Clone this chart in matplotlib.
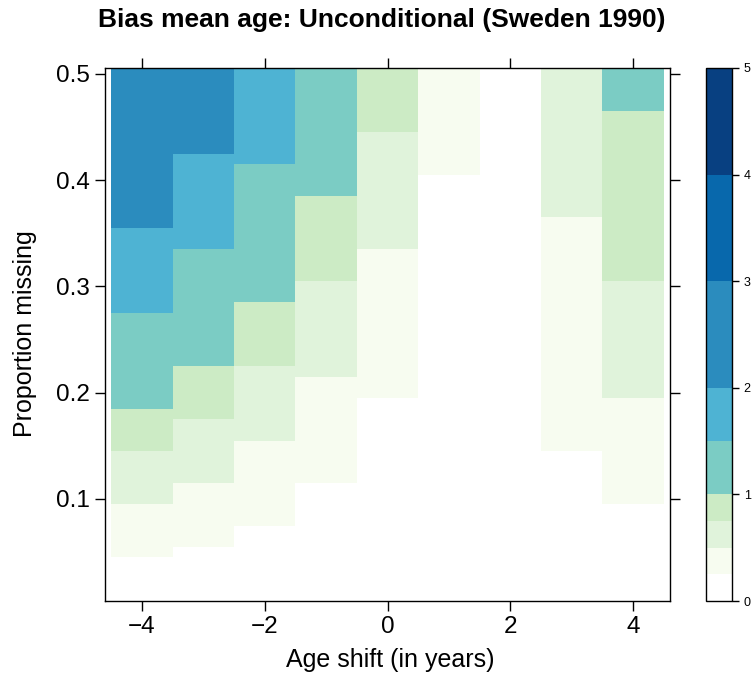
import numpy as np
import matplotlib
matplotlib.use("Agg")
import matplotlib.pyplot as plt
from matplotlib.colors import ListedColormap, BoundaryNorm

plt.rcParams["font.family"] = ["Liberation Sans", "DejaVu Sans"]

# age shift columns and proportion-missing rows
age_shift = [-4, -3, -2, -1, 0, 1, 2, 3, 4]
prop_missing = np.round(np.arange(1, 51) * 0.01, 2)

# colour key
levels = [0, 0.25, 0.5, 0.75, 1, 1.5, 2, 3, 4, 5]
colors = ["#ffffff", "#f7fcf0", "#e0f3db", "#ccebc5", "#7bccc4",
          "#4eb3d3", "#2b8cbe", "#0868ac", "#084081"]

# bias per column, read bottom-up as (value, number of rows)
bias_m4 = [(0.1, 4), (0.4, 5), (0.6, 5), (0.9, 4), (1.2, 9), (1.8, 8), (2.5, 15)]
bias_m3 = [(0.1, 5), (0.4, 6), (0.6, 6), (0.9, 5), (1.2, 11), (1.8, 9), (2.5, 8)]
bias_m2 = [(0.1, 7), (0.4, 8), (0.6, 7), (0.9, 6), (1.2, 13), (1.8, 9)]
bias_m1 = [(0.1, 11), (0.4, 10), (0.6, 9), (0.9, 8), (1.2, 12)]
bias_0 = [(0.1, 19), (0.4, 14), (0.6, 11), (0.9, 6)]
bias_p1 = [(0.1, 40), (0.4, 10)]
bias_p2 = [(0.1, 50)]
bias_p3 = [(0.1, 14), (0.4, 22), (0.6, 14)]
bias_p4 = [(0.1, 9), (0.4, 10), (0.6, 11), (0.9, 16), (1.2, 4)]

columns = [bias_m4, bias_m3, bias_m2, bias_m1, bias_0,
           bias_p1, bias_p2, bias_p3, bias_p4]


def expand(runs):
    vals = [v for v, _ in runs]
    counts = [n for _, n in runs]
    return np.repeat(vals, counts)


Z = np.column_stack([expand(c) for c in columns])

cmap = ListedColormap(colors)
norm = BoundaryNorm(levels, cmap.N)

W, H = 753, 677
fig = plt.figure(figsize=(W / 100, H / 100), dpi=100)
ax = fig.add_axes([105 / W, 76 / H, 565 / W, 533 / H])

xe = np.append(np.array(age_shift) - 0.5, age_shift[-1] + 0.5)
ye = np.append(prop_missing - 0.005, prop_missing[-1] + 0.005)
ax.pcolormesh(xe, ye, Z, cmap=cmap, norm=norm, shading="flat")

ax.set_xlim(-4.6, 4.6)
ax.set_ylim(0.004, 0.5056)
ax.set_xticks([-4, -2, 0, 2, 4])
ax.set_xticklabels(["\u22124", "\u22122", "0", "2", "4"])
ax.set_yticks([0.1, 0.2, 0.3, 0.4, 0.5])
ax.tick_params(direction="out", length=7, width=1, labelsize=17.5, pad=4,
               top=True, right=True, labeltop=False, labelright=False)
for s in ax.spines.values():
    s.set_linewidth(1)

fig.text(390 / W, 1 - 660 / H, "Age shift (in years)", ha="center", va="center",
         fontsize=18)
fig.text(25 / W, 1 - 334 / H, "Proportion missing", ha="center", va="center",
         rotation=90, fontsize=18)
fig.text(382 / W, 1 - 20 / H, "Bias mean age: Unconditional (Sweden 1990)",
         ha="center", va="center", fontsize=19, fontweight="bold")

# colour key
cax = fig.add_axes([706 / W, 76 / H, 26 / W, 533 / H])
cb = fig.colorbar(plt.cm.ScalarMappable(norm=norm, cmap=cmap), cax=cax,
                  spacing="proportional", ticks=[0, 1, 2, 3, 4, 5])
cb.outline.set_linewidth(1)
cax.minorticks_off()
cax.tick_params(direction="out", length=5, width=1, labelsize=9)

fig.savefig("out.png", dpi=100)
